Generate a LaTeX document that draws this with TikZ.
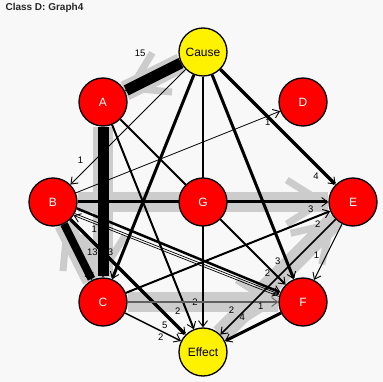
\documentclass[tikz,border=0pt]{standalone}
\usepackage{fontspec}
\setmainfont{Liberation Sans}
\usetikzlibrary{arrows.meta}
\definecolor{bgcol}{RGB}{248,248,248}
\definecolor{bandcol}{RGB}{204,204,204}
\definecolor{cfcol}{RGB}{96,96,96}
\pgfdeclarelayer{back}
\pgfdeclarelayer{band}
\pgfdeclarelayer{edge}
\pgfsetlayers{back,band,edge,main}

\begin{document}
\begin{tikzpicture}[x=1pt, y=-1pt,
  var/.style={circle, draw, line width=1.3pt, minimum size=48pt, inner sep=0pt,
              fill=red, text=white, font=\fontsize{12}{14}\selectfont},
  io/.style={var, fill=yellow, text=black},
  dep/.style={-{Straight Barb[length=6pt,width=9pt,line width=0.9pt]}},
  band/.style={draw=bandcol, line width=20pt,
               postaction={draw=bandcol, line width=7pt,
                           -{Straight Barb[length=35pt,width=44pt]}}},
  lab/.style={font=\fontsize{9.5}{11}\selectfont, inner sep=0pt},
  ttl/.style={font=\bfseries\fontsize{10}{12}\selectfont, text=black!85, anchor=west}
]
  \useasboundingbox (0,0) rectangle (383,382);
  \begin{pgfonlayer}{back}
    \fill[bgcol] (0,0) rectangle (383,382);
  \end{pgfonlayer}

  \node[ttl] (title) at (2,8) {Class D: Graph4};

  % Variables
  \node[io]  (Cause) at (203,52)  {Cause};
  \node[var] (A)     at (103,102) {A};
  \node[var] (D)     at (303,102) {D};
  \node[var] (B)     at (53,202)  {B};
  \node[var] (G)     at (203,202) {G};
  \node[var] (E)     at (353,202) {E};
  \node[var] (C)     at (103,302) {C};
  \node[var] (F)     at (303,302) {F};
  \node[io]  (Eff)   at (203,352) {Effect};

  % True graph (gray)
  \begin{pgfonlayer}{band}
    \draw[band] (Cause) -- (A);
    \draw[band] (A) -- (C);
    \draw[band] (C) -- (B);
    \draw[band] (B) -- (E);
    \draw[band] (C) -- (F);
    \draw[band] (Eff) -- (E);
  \end{pgfonlayer}

  % Found edges
  \begin{pgfonlayer}{edge}
    \draw[dep, line width=11pt] (Cause) -- node[lab, pos=0.73, above=21pt] {15} (A);
    \draw[dep, line width=11pt] (A) -- (C);
    \draw[dep, line width=8pt] (B) -- node[lab, pos=0.5, right=5pt] {13} (C);
    \draw[dep, line width=3pt] (Cause) -- node[lab, pos=0.87, left=8pt] {3} (C);
    \draw[dep, line width=0.8pt] (Cause) -- node[lab, pos=0.79, left=11pt] {1} (B);
    \draw[dep, line width=2.5pt] (Cause) -- node[lab, pos=0.9, left=4pt] {2} (Eff);
    \draw[dep, line width=3pt] (Cause) -- node[lab, pos=0.91, left=4.5pt] {3} (F);
    \draw[dep, line width=3.5pt] (Cause) -- node[lab, pos=0.83, below=6.5pt] {4} (E);
    \draw[dep, line width=2pt] (A) -- node[lab, pos=0.89, below=2.5pt] {2} (F);
    \draw[dep, line width=2pt] (A) -- node[lab, pos=0.91, left=5pt] {2} (Eff);
    \draw[dep, line width=0.8pt] (B) -- node[lab, pos=0.94, below=2.5pt] {1} (D);
    \draw[dep, line width=3pt] (B) -- node[lab, pos=0.93, below=2.5pt] {3} (E);
    \draw[dep, line width=2.5pt] (B.-15) -- (F.157);
    \draw[dep, line width=0.7pt] (B.-28) -- (F.162);
    \draw[dep, line width=0.7pt] (F.167) -- node[lab, pos=0.9, below=1.7pt] {1} (B.-33);
    \draw[dep, line width=3.5pt] (B) -- node[lab, pos=0.82, below=6.5pt] {5} (Eff);
    \draw[dep, line width=2pt] (C) -- node[lab, pos=0.94, below=3.5pt] {2} (E);
    \draw[dep, draw=cfcol, line width=2pt] (C) -- node[lab, pos=0.69, below=3.5pt] {2} (F);
    \draw[dep, line width=1.5pt] (C) -- node[lab, pos=0.64, below=2.6pt] {2} (Eff);
    \draw[dep, line width=1pt] (E) -- node[lab, pos=0.55, left=7pt] {1} (F);
    \draw[dep, line width=1.5pt] (E) -- node[lab, pos=0.81, below=0.5pt] {4} (Eff);
    \draw[dep, line width=3pt] (F) -- node[lab, pos=0.36, above=12.5pt] {1} (Eff);
  \end{pgfonlayer}
\end{tikzpicture}
\end{document}
